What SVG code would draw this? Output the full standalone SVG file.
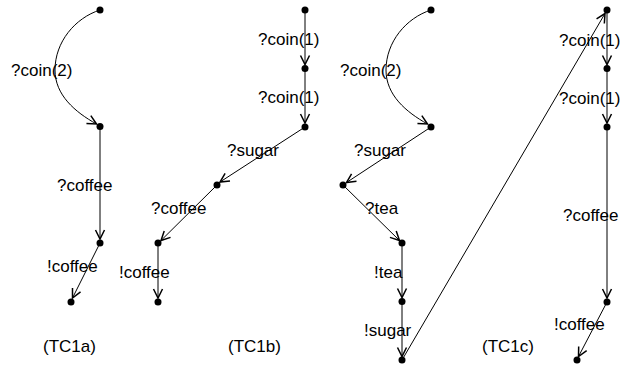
<svg xmlns="http://www.w3.org/2000/svg" width="631" height="369" viewBox="0 0 631 369">
<style>
text{font-family:"Liberation Sans",Arial,sans-serif;font-size:17px;fill:#000}
.e{fill:none;stroke:#000;stroke-width:1;marker-end:url(#ah)}
.n{fill:#000}
</style>
<defs>
<marker id="ah" markerUnits="userSpaceOnUse" viewBox="-11 -6 13 12" refX="0" refY="0" markerWidth="13" markerHeight="12" orient="auto">
<path d="M-9,-4.5 L0,0 L-9,4.5" fill="none" stroke="#000" stroke-width="1.5" stroke-linejoin="miter"/>
</marker>
</defs>
<g id="connectors">
<path class="e" d="M100,10 C75,18 55,42 55,70 C55,95 75,112 96.5,124"/>
<path class="e" d="M100,127 L100,239"/>
<path class="e" d="M100,243 L72.5,298"/>
<path class="e" d="M305,10 L305,64.5"/>
<path class="e" d="M305,68.5 L305,123"/>
<path class="e" d="M305,127 L220,182"/>
<path class="e" d="M217,185 L161,240.5"/>
<path class="e" d="M158,243 L158,298"/>
<path class="e" d="M431,10 C406,18 386,42 386,70 C386,95 406,112 427.5,124"/>
<path class="e" d="M431,127 L346.5,182.5"/>
<path class="e" d="M343,185 L399.5,240.5"/>
<path class="e" d="M402,243 L402,297.5"/>
<path class="e" d="M402,302 L402,356.5"/>
<path class="e" d="M402,360 L605,13.5"/>
<path class="e" d="M607,10 L607,64.5"/>
<path class="e" d="M607,68.5 L607,123"/>
<path class="e" d="M607,127 L607,298"/>
<path class="e" d="M607,302 L578.5,356.5"/>
</g>
<g id="tc1a">
<circle class="n" cx="100" cy="10" r="3.5"/>
<circle class="n" cx="100" cy="126.5" r="3.5"/>
<circle class="n" cx="100" cy="243" r="3.5"/>
<circle class="n" cx="71" cy="302" r="3.5"/>
<text x="11" y="76">?coin(2)</text>
<text x="57" y="191">?coffee</text>
<text x="47" y="272">!coffee</text>
<text x="43" y="352">(TC1a)</text>
</g>
<g id="tc1b">
<circle class="n" cx="305" cy="10" r="3.5"/>
<circle class="n" cx="305" cy="68.5" r="3.5"/>
<circle class="n" cx="305" cy="127" r="3.5"/>
<circle class="n" cx="217" cy="185" r="3.5"/>
<circle class="n" cx="158" cy="243" r="3.5"/>
<circle class="n" cx="158" cy="302" r="3.5"/>
<text x="258" y="45">?coin(1)</text>
<text x="258" y="103">?coin(1)</text>
<text x="227" y="156">?sugar</text>
<text x="151" y="214">?coffee</text>
<text x="119" y="278">!coffee</text>
<text x="228" y="352">(TC1b)</text>
</g>
<g id="tc1c">
<circle class="n" cx="431" cy="10" r="3.5"/>
<circle class="n" cx="431" cy="127" r="3.5"/>
<circle class="n" cx="343" cy="185" r="3.5"/>
<circle class="n" cx="402" cy="243" r="3.5"/>
<circle class="n" cx="402" cy="301.5" r="3.5"/>
<circle class="n" cx="402" cy="360" r="3.5"/>
<circle class="n" cx="607" cy="10" r="3.5"/>
<circle class="n" cx="607" cy="68.5" r="3.5"/>
<circle class="n" cx="607" cy="127" r="3.5"/>
<circle class="n" cx="607" cy="302" r="3.5"/>
<circle class="n" cx="577" cy="360" r="3.5"/>
<text x="340" y="76">?coin(2)</text>
<text x="354" y="156">?sugar</text>
<text x="365" y="214">?tea</text>
<text x="374" y="278">!tea</text>
<text x="364" y="336">!sugar</text>
<text x="559" y="46">?coin(1)</text>
<text x="559" y="104">?coin(1)</text>
<text x="563" y="221">?coffee</text>
<text x="554" y="330">!coffee</text>
<text x="482" y="352">(TC1c)</text>
</g>
</svg>
